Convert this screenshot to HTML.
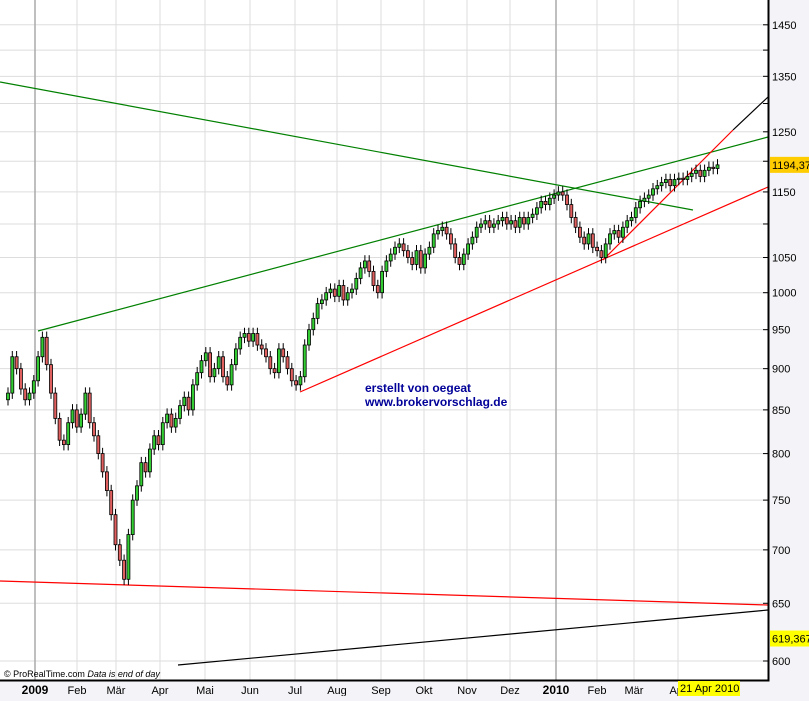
<!DOCTYPE html>
<html><head><meta charset="utf-8"><style>
body{margin:0;background:#f4f4f8;font-family:"Liberation Sans",sans-serif;}
svg text{font-family:"Liberation Sans",sans-serif;}
</style></head><body>
<svg id="c" width="809" height="696" xmlns="http://www.w3.org/2000/svg">
<rect x="0" y="0" width="809" height="696" fill="#f4f4f8"/>
<rect x="0" y="0" width="768" height="680" fill="#ffffff"/>
<g id="grid"></g><g id="lines"></g><g id="candles"></g><g id="axes"></g>
<text x="365" y="392" font-size="12" font-weight="bold" fill="#000099">erstellt von oegeat</text>
<text x="365" y="406" font-size="12" font-weight="bold" fill="#000099">www.brokervorschlag.de</text>
<text x="4" y="677" font-size="9" fill="#000">© ProRealTime.com  <tspan font-style="italic">Data is end of day</tspan></text>
</svg>
<script>
const yTicks=[1450,1350,1250,1150,1050,1000,950,900,850,800,750,700,650,600];
const yGrid=[1400,1300,1200,1100];
const monthLabels=["2009","Feb","Mär","Apr","Mai","Jun","Jul","Aug","Sep","Okt","Nov","Dez","2010","Feb","Mär","Apr"];
const monthX=[35,77,116,160,205,250,295,337,381,424,467,510,556,597,634,678];
const closes=[870,915,900,875,862,870,885,915,940,905,
870,840,815,810,835,850,830,845,870,835,
820,800,780,760,735,705,690,672,715,750,
765,790,780,805,820,810,835,845,830,840,
855,865,850,880,895,910,920,890,900,915,
890,880,905,925,940,945,935,945,930,925,
915,900,895,925,915,900,885,880,890,930,
950,965,985,990,1000,1005,995,1010,990,1000,
1005,1020,1035,1045,1030,1010,1000,1030,1045,1055,
1065,1070,1060,1050,1040,1060,1035,1055,1065,1085,
1090,1095,1085,1070,1050,1040,1055,1070,1080,1095,
1100,1105,1095,1100,1105,1110,1100,1105,1095,1110,
1100,1110,1115,1125,1135,1130,1140,1145,1150,1145,
1130,1110,1095,1080,1070,1085,1065,1060,1050,1070,
1085,1090,1080,1095,1105,1110,1125,1135,1140,1145,
1155,1160,1165,1170,1160,1170,1172,1170,1175,1180,
1185,1175,1185,1190,1188,1194];
const NS="http://www.w3.org/2000/svg";
function Y(p){return 661-(Math.log(p)-Math.log(600))*721;}
function X(i){return 8+i*4.3;}
function mk(t,a,parent){const e=document.createElementNS(NS,t);for(const k in a)e.setAttribute(k,a[k]);parent.appendChild(e);return e;}
const grid=document.getElementById('grid'),axes=document.getElementById('axes'),lines=document.getElementById('lines'),cg=document.getElementById('candles');
yTicks.concat(yGrid).forEach(v=>{const l=mk('line',{x1:0,x2:768,y1:Y(v),y2:Y(v),stroke:'#dddddd','stroke-width':1},grid);


const t=mk('line',{x1:763,x2:768,y1:Y(v),y2:Y(v),stroke:'#000'},axes);

});
yTicks.forEach(v=>{const t=mk('text',{x:772,y:Y(v)+4,'font-size':11,fill:'#000'},axes);t.textContent=v;

});
monthX.forEach((x,i)=>{const yr=monthLabels[i].length===4;
const l=mk('line',{x1:x,x2:x,y1:0,y2:680,stroke:yr?'#aaaaaa':'#dddddd','stroke-width':yr?1.5:1},grid);


const t=mk('text',{x:x,y:694,'font-size':yr?12:11,'font-weight':yr?'bold':'normal','text-anchor':'middle',fill:'#000'},axes);t.textContent=monthLabels[i];

});
const ax=mk('path',{d:'M768.5 0 V680.5 H0',fill:'none',stroke:'#000','stroke-width':2},axes);


// trendlines
const trend=[[0,82,693,210,'#008000'],[38,331,768,137,'#008000'],[300,392,768,187,'#ff0000'],[603,260,733,130,'#ff0000'],[733,130,768,97,'#000'],[0,581,768,605,'#ff0000'],[178,665,768,610,'#000']];
trend.forEach(t=>{const l=mk('line',{x1:t[0],y1:t[1],x2:t[2],y2:t[3],stroke:t[4],'stroke-width':1.2},lines);

});
closes.forEach((c,i)=>{const o=i?closes[i-1]:c-8;const x=X(i);const up=c>=o;
const hi=Math.max(o,c)*1.008,lo=Math.min(o,c)*0.992;
const w=mk('line',{x1:x,x2:x,y1:Y(hi),y2:Y(lo),stroke:'#000','stroke-width':1},cg);


const t=Y(Math.max(o,c)),b=Y(Math.min(o,c));
const r=mk('rect',{x:x-1.5,y:t,width:3,height:Math.max(1,b-t),fill:up?'#33cc33':'#e06060',stroke:'#000','stroke-width':0.8},cg);

});
function box(x,y,w,h,fill,txt,name){const g=mk('g',{},axes);


mk('rect',{x:x,y:y,width:w,height:h,fill:fill},g);const t=mk('text',{x:x+2,y:y+h-4,'font-size':11,fill:'#000'},g);t.textContent=txt;}
box(770,Y(1194)-8,39,16,'#ffcc00','1194,37','last-price-label');
box(770,Y(619)-8,39,16,'#ffff00','619,367','line-value-label');
box(678,681,62,15,'#ffff00','21 Apr 2010','current-date-label');
</script>
</body></html>
